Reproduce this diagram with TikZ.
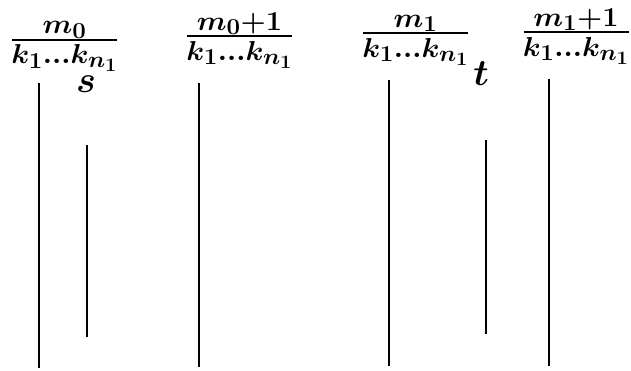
\documentclass[tikz,border=0pt]{standalone}
\usepackage{amsmath}
\usetikzlibrary{positioning}

\begin{document}
\begin{tikzpicture}[
  x=1pt, y=-1pt,
  lbl/.style={inner sep=0pt, font=\Huge\boldmath, xscale=1.16, yscale=1.1},
  ptlbl/.style={inner sep=0pt, font=\Huge\boldmath, scale=1.5},
  fbar/.style={line width=2pt},
  tick/.style={line width=2.6pt}
]
  \useasboundingbox (0,0) rectangle (631,370);

  % fractions over the long lines (text runs slightly uphill)
  \foreach \i/\cx/\by/\hw/\num in {0/64.5/39.5/52.5/m_0,
                                   1/239.5/36/52.5/m_0{+}1,
                                   2/415.5/33/52.5/m_1,
                                   3/576/32/52.5/m_1{+}1}{
    \node[lbl, anchor=base] (num\i) at (\cx,\by-6)  {$\num$};
    \node[lbl, anchor=base] (den\i) at (\cx,\by+24) {$k_1...k_{n_1}$};
    \coordinate (bl\i) at (\cx-\hw,\by);
    \coordinate (br\i) at (\cx+\hw,\by);
    \draw[fbar] (bl\i) -- (br\i);
  }

  % points s and t
  \node[ptlbl, anchor=base] (s) at (86,92) {$s$};
  \node[ptlbl, anchor=base] (t) at (481,85) {$t$};

  % end points of the lines
  \coordinate (a0) at (39,83);  \coordinate (b0) at (39,368);
  \coordinate (a1) at (199,83); \coordinate (b1) at (199,367);
  \coordinate (a2) at (389,80); \coordinate (b2) at (389,366);
  \coordinate (a3) at (549,79); \coordinate (b3) at (549,366);
  \coordinate (sa) at (87,145); \coordinate (sb) at (87,337);
  \coordinate (ta) at (486,140); \coordinate (tb) at (486,334);

  \foreach \i in {0,...,3}
    \draw[tick] (a\i) -- (b\i);
  \draw[tick] (sa) -- (sb);
  \draw[tick] (ta) -- (tb);
\end{tikzpicture}
\end{document}
